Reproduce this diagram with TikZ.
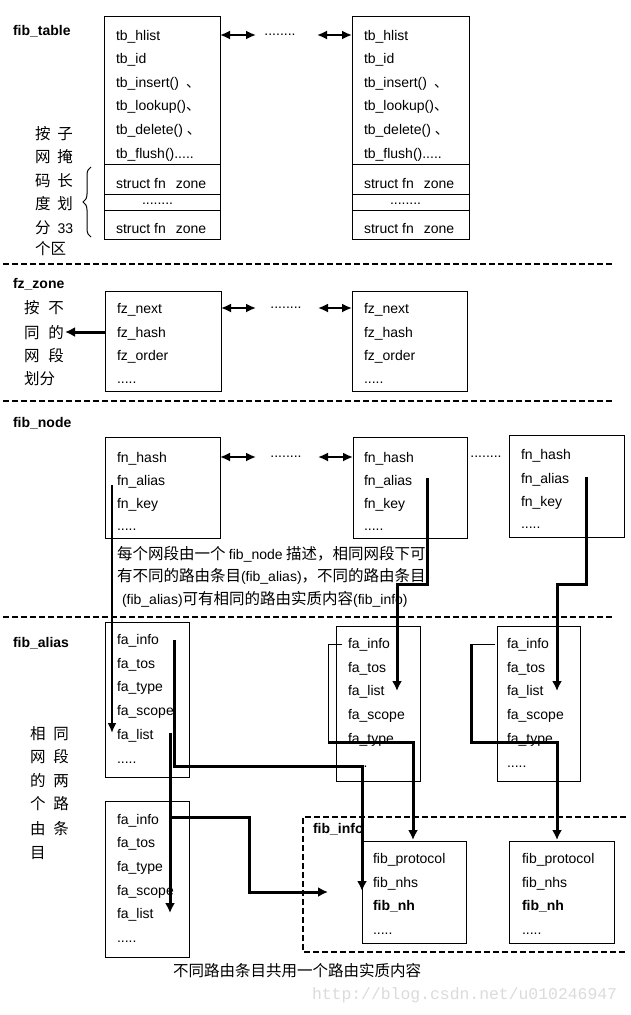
\documentclass[tikz,border=0pt]{standalone}
\usepackage{fontspec}
\setmainfont{Liberation Sans}
\newfontfamily\cjk{Noto Sans CJK SC}
\newfontfamily\wmfont{Liberation Mono}
\usetikzlibrary{arrows.meta,decorations.pathreplacing}
\newcommand\latx[1]{{\rmfamily\fontsize{14}{16}\selectfont #1}}
\begin{document}
\begin{tikzpicture}[x=1pt,y=-1pt,
  every node/.style={inner sep=0pt,outer sep=0pt},
  lbl/.style={font=\fontsize{14}{16}\selectfont,anchor=base west},
  hdr/.style={font=\fontsize{14}{16}\selectfont\bfseries,anchor=base west},
  zh/.style={font=\fontsize{15.5}{18}\selectfont\cjk,anchor=base west},
  dotsn/.style={font=\fontsize{14}{16}\selectfont,anchor=center},
  box/.style={draw,line width=1pt,anchor=north west,rectangle},
  sepline/.style={line width=2pt,dash pattern=on 6pt off 3pt},
  darr/.style={line width=1.8pt,{Latex[length=10pt,width=9pt]}-{Latex[length=10pt,width=9pt]}},
  link/.style={line width=3pt,-{Latex[length=10pt,width=10pt]}},
  linkm/.style={line width=2pt,-{Latex[length=10pt,width=9pt]}},
  thk/.style={line width=3pt},
  hair/.style={line width=1pt},
]
\fill[white] (0,0) rectangle (630,1015);
\useasboundingbox (0,0) rectangle (630,1015);

% ---------------- fib_table ----------------
\node[hdr] (h1) at (13,35) {fib\_table};
\node[box,minimum width=116pt,minimum height=223pt] (T1) at (104,16) {};
\node[box,minimum width=117pt,minimum height=223pt] (T2) at (352,16) {};
\draw[hair] (T1.west |- 0,164) -- (T1.east |- 0,164);
\draw[hair] (T1.west |- 0,194) -- (T1.east |- 0,194);
\draw[hair] (T1.west |- 0,210) -- (T1.east |- 0,210);
\draw[hair] (T2.west |- 0,164) -- (T2.east |- 0,164);
\draw[hair] (T2.west |- 0,194) -- (T2.east |- 0,194);
\draw[hair] (T2.west |- 0,210) -- (T2.east |- 0,210);

\node[lbl] (t1a) at (116,40) {tb\_hlist};
\node[lbl] (t1b) at (116,63) {tb\_id};
\node[lbl] (t1c) at (116,87) {tb\_insert()\hspace{7pt}{\cjk 、}};
\node[lbl] (t1d) at (116,110) {tb\_lookup(){\cjk 、}};
\node[lbl] (t1e) at (116,134) {tb\_delete()\hspace{4pt}{\cjk 、}};
\node[lbl] (t1f) at (116,158) {tb\_flush().....};
\node[lbl] (t1g) at (116,188) {struct fn\hspace{10pt}zone};
\node[lbl] (t1h) at (142,204) {........};
\node[lbl] (t1i) at (116,233) {struct fn\hspace{10pt}zone};

\node[lbl] (t2a) at (364,40) {tb\_hlist};
\node[lbl] (t2b) at (364,63) {tb\_id};
\node[lbl] (t2c) at (364,87) {tb\_insert()\hspace{7pt}{\cjk 、}};
\node[lbl] (t2d) at (364,110) {tb\_lookup(){\cjk 、}};
\node[lbl] (t2e) at (364,134) {tb\_delete()\hspace{4pt}{\cjk 、}};
\node[lbl] (t2f) at (364,158) {tb\_flush().....};
\node[lbl] (t2g) at (364,188) {struct fn\hspace{10pt}zone};
\node[lbl] (t2h) at (390,204) {........};
\node[lbl] (t2i) at (364,233) {struct fn\hspace{10pt}zone};

\coordinate (ta1) at (256,35);
\coordinate (ta2) at (317,35);
\draw[darr] (T1.east |- ta1) -- (ta1);
\node[dotsn] (td) at (280,35) {........};
\draw[darr] (ta2) -- (T2.west |- ta2);

\node[zh] (k1) at (35,139) {按\hspace{7pt}子};
\node[zh] (k2) at (35,162) {网\hspace{7pt}掩};
\node[zh] (k3) at (35,186) {码\hspace{7pt}长};
\node[zh] (k4) at (35,209) {度\hspace{7pt}划};
\node[zh] (k5) at (35,233) {分\hspace{7pt}\latx{33}};
\node[zh] (k6) at (35,254) {个区};
\draw[hair,decorate,decoration={brace,amplitude=8pt}] (91,237) -- (91,167);

\draw[sepline] (3,264) -- (612,264);

% ---------------- fz_zone ----------------
\node[hdr] (h2) at (13,288) {fz\_zone};
\node[box,minimum width=116pt,minimum height=100pt] (Z1) at (105,291) {};
\node[box,minimum width=115pt,minimum height=100pt] (Z2) at (352,291) {};
\node[lbl] (z1a) at (117,313) {fz\_next};
\node[lbl] (z1b) at (117,337) {fz\_hash};
\node[lbl] (z1c) at (117,360) {fz\_order};
\node[lbl] (z1d) at (117,383) {.....};
\node[lbl] (z2a) at (364,313) {fz\_next};
\node[lbl] (z2b) at (364,337) {fz\_hash};
\node[lbl] (z2c) at (364,360) {fz\_order};
\node[lbl] (z2d) at (364,383) {.....};

\coordinate (za1) at (256,308);
\coordinate (za2) at (318,308);
\draw[darr] (Z1.east |- za1) -- (za1);
\node[dotsn] (zd) at (286,308) {........};
\draw[darr] (za2) -- (Z2.west |- za2);

\node[zh] (m1) at (24,313) {按\hspace{9pt}不};
\node[zh] (m2) at (24,338) {同\hspace{9pt}的};
\node[zh] (m3) at (24,361) {网\hspace{9pt}段};
\node[zh] (m4) at (24,384) {划分};
\coordinate (zl) at (65,332);
\draw[link] (Z1.west |- zl) -- (zl);

\draw[sepline] (3,401) -- (612,401);

% ---------------- fib_node ----------------
\node[hdr] (h3) at (13,427) {fib\_node};
\node[box,minimum width=115pt,minimum height=101pt] (N1) at (105,437) {};
\node[box,minimum width=114pt,minimum height=101pt] (N2) at (353,437) {};
\node[box,minimum width=115pt,minimum height=102pt] (N3) at (509,435) {};
\node[lbl] (n1a) at (117,462) {fn\_hash};
\node[lbl] (n1b) at (117,485) {fn\_alias};
\node[lbl] (n1c) at (117,508) {fn\_key};
\node[lbl] (n1d) at (117,530) {.....};
\node[lbl] (n2a) at (364,462) {fn\_hash};
\node[lbl] (n2b) at (364,485) {fn\_alias};
\node[lbl] (n2c) at (364,508) {fn\_key};
\node[lbl] (n2d) at (364,530) {.....};
\node[lbl] (n3a) at (521,459) {fn\_hash};
\node[lbl] (n3b) at (521,483) {fn\_alias};
\node[lbl] (n3c) at (521,506) {fn\_key};
\node[lbl] (n3d) at (521,528) {.....};

\coordinate (na1) at (256,457);
\coordinate (na2) at (318,457);
\draw[darr] (N1.east |- na1) -- (na1);
\node[dotsn] (nd1) at (286,457) {........};
\draw[darr] (na2) -- (N2.west |- na2);
\node[dotsn] (nd2) at (486,457) {........};

\node[zh] (p1) at (117,559) {每个网段由一个 \latx{fib\_node} 描述，相同网段下可};
\node[zh] (p2) at (117,581) {有不同的路由条目\latx{(fib\_alias)}，不同的路由条目};
\node[zh] (p3) at (122,604) {\latx{(fib\_alias)}可有相同的路由实质内容\latx{(fib\_info)}};

\draw[sepline] (3,617) -- (612,617);

% ---------------- fib_alias ----------------
\node[hdr] (h4) at (13,647) {fib\_alias};
\node[box,minimum width=84pt,minimum height=155pt] (A1) at (105,622) {};
\node[box,minimum width=84pt,minimum height=155pt] (A2) at (336,626) {};
\node[box,minimum width=83pt,minimum height=155pt] (A3) at (497,626) {};
\node[box,minimum width=84pt,minimum height=156pt] (A4) at (105,801) {};

\node[lbl] (a1a) at (117,644) {fa\_info};
\node[lbl] (a1b) at (117,668) {fa\_tos};
\node[lbl] (a1c) at (117,691) {fa\_type};
\node[lbl] (a1d) at (117,715) {fa\_scope};
\node[lbl] (a1e) at (117,739) {fa\_list};
\node[lbl] (a1f) at (117,763) {.....};

\node[lbl] (a2a) at (348,648) {fa\_info};
\node[lbl] (a2b) at (348,672) {fa\_tos};
\node[lbl] (a2c) at (348,695) {fa\_list};
\node[lbl] (a2d) at (348,719) {fa\_scope};
\node[lbl] (a2e) at (348,743) {fa\_type};
\node[lbl] (a2f) at (348,767) {.....};

\node[lbl] (a3a) at (507,648) {fa\_info};
\node[lbl] (a3b) at (507,672) {fa\_tos};
\node[lbl] (a3c) at (507,695) {fa\_list};
\node[lbl] (a3d) at (507,719) {fa\_scope};
\node[lbl] (a3e) at (507,743) {fa\_type};
\node[lbl] (a3f) at (507,767) {.....};

\node[lbl] (a4a) at (117,824) {fa\_info};
\node[lbl] (a4b) at (117,847) {fa\_tos};
\node[lbl] (a4c) at (117,871) {fa\_type};
\node[lbl] (a4d) at (117,895) {fa\_scope};
\node[lbl] (a4e) at (117,918) {fa\_list};
\node[lbl] (a4f) at (117,942) {.....};

\node[zh] (s1) at (30,739) {相\hspace{8pt}同};
\node[zh] (s2) at (30,762) {网\hspace{8pt}段};
\node[zh] (s3) at (30,786) {的\hspace{8pt}两};
\node[zh] (s4) at (30,809) {个\hspace{8pt}路};
\node[zh] (s5) at (30,834) {由\hspace{8pt}条};
\node[zh] (s6) at (30,858) {目};

% ---------------- fib_info ----------------
\draw[sepline] (626,817) -- (303,817) -- (303,952) -- (626,952);
\node[hdr] (h5) at (313,833) {fib\_info};
\node[box,minimum width=104pt,minimum height=102pt] (F1) at (362,841) {};
\node[box,minimum width=105pt,minimum height=102pt] (F2) at (509,841) {};
\node[lbl] (f1a) at (373,863) {fib\_protocol};
\node[lbl] (f1b) at (373,887) {fib\_nhs};
\node[lbl] (f1c) at (373,910) {\textbf{fib\_nh}};
\node[lbl] (f1d) at (373,934) {.....};
\node[lbl] (f2a) at (522,863) {fib\_protocol};
\node[lbl] (f2b) at (522,887) {fib\_nhs};
\node[lbl] (f2c) at (522,910) {\textbf{fib\_nh}};
\node[lbl] (f2d) at (522,934) {.....};

\node[zh] (cap) at (173,976) {不同路由条目共用一个路由实质内容};
\node[anchor=base west,font=\fontsize{16.4}{18}\selectfont\wmfont,text=black!14] (wm) at (312,999) {http://blog.csdn.net/u010246947};

% ---------------- links ----------------
\coordinate (l1a) at (112,485);
\coordinate (l1b) at (112,733);
\draw[linkm] (l1a) -- (l1b);

\coordinate (l2a) at (427,478);
\coordinate (l2b) at (427,584);
\coordinate (l2c) at (397,584);
\coordinate (l2d) at (397,691);
\draw[link] (l2a) -- (l2b) -- (l2c) -- (l2d);

\coordinate (l3a) at (586,477);
\coordinate (l3b) at (586,584);
\coordinate (l3c) at (557,584);
\coordinate (l3d) at (557,691);
\draw[link] (l3a) -- (l3b) -- (l3c) -- (l3d);

\coordinate (l4a) at (174,640);
\coordinate (l4b) at (174,766);
\coordinate (l4c) at (362,766);
\coordinate (l4d) at (362,891);
\draw[link] (l4a) -- (l4b) -- (l4c) -- (l4d);

\coordinate (l5a) at (170,733);
\coordinate (l5b) at (170,913);
\draw[link] (l5a) -- (l5b);

\coordinate (l6a) at (169,817);
\coordinate (l6b) at (249,817);
\coordinate (l6c) at (249,892);
\coordinate (l6d) at (328,892);
\draw[link] (l6a) -- (l6b) -- (l6c) -- (l6d);

\coordinate (l7a) at (342,644);
\coordinate (l7b) at (328,644);
\coordinate (l7c) at (328,742);
\coordinate (l7d) at (413,742);
\coordinate (l7e) at (413,840);
\draw[hair] (l7a) -- (l7b) -- (l7c);
\draw[link] (l7c) -- (l7d) -- (l7e);

\coordinate (l8a) at (495,644);
\coordinate (l8b) at (471,644);
\coordinate (l8c) at (471,742);
\coordinate (l8d) at (557,742);
\coordinate (l8e) at (557,840);
\draw[hair] (l8a) -- (l8b);
\draw[link] (l8b) -- (l8c) -- (l8d) -- (l8e);
\end{tikzpicture}
\end{document}
